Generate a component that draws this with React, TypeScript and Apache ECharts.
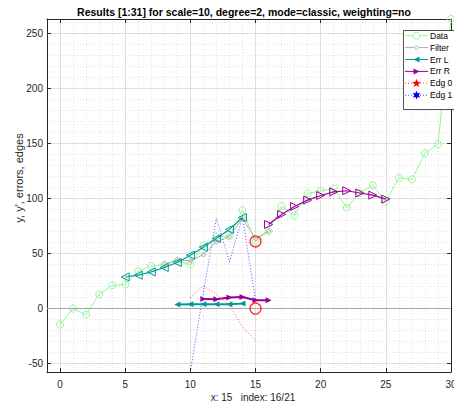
import React, { useEffect, useRef } from "react";
import * as echarts from "echarts";

const FONT = "'Liberation Sans', Arial, Helvetica, sans-serif";
const TITLE = "Results [1:31] for scale=10, degree=2, mode=classic, weighting=no";
const X_LABEL = "x: 15\u00a0\u00a0 index: 16/21";
const Y_LABEL = "y, y', errors, edges";

const X_MIN = -1;
const X_MAX = 30;
const Y_MIN = -57.6;
const Y_MAX = 263;

const dataX = [0, 1, 2, 3, 4, 5, 6, 7, 8, 9, 10, 11, 12, 13, 14, 15, 16, 17, 18, 19, 20, 21, 22, 23, 24, 25, 26, 27, 28, 29, 30];
const dataY = [-14.5, 0, -5.5, 13, 21, 22, 34, 38.7, 40, 43, 40, 57, 65, 65.7, 89.4, 61, 70.5, 93, 84.5, 104.5, 107, 109, 91.5, 105, 112, 97, 118.7, 117.3, 141, 149.4, 263];

const filterX = [8, 9, 10, 11, 12, 13, 14, 15, 16];
const filterY = [40, 44.5, 43.3, 49, 60.5, 65.5, 81.8, 63.6, 70.5];

const errLX = [5, 6, 7, 8, 9, 10, 11, 12, 13, 14];
const errLY = [28.7, 30.3, 33.3, 37.3, 41.8, 48.5, 55.7, 63.6, 71.9, 82.7];

const errRX = [16, 17, 18, 19, 20, 21, 22, 23, 24, 25];
const errRY = [76.4, 85.5, 92.7, 98.5, 102.7, 106, 107, 105, 103, 99.4];

const errLLowX = [9, 10, 11, 12, 13, 14];
const errLLowY = [3.6, 3.9, 3.9, 3.9, 3.9, 4.5];

const errRLowX = [11, 12, 13, 14, 15, 16];
const errRLowY = [8.7, 8.5, 10, 10.5, 7.5, 7.5];

const edg0X = [10, 11, 12, 13, 14, 15];
const edg0Y = [10, 20.5, 13, 3, -16.7, -28.8];

const edg1X = [10, 11, 12, 13, 14, 15];
const edg1Y = [-57.6, 15, 81.8, 42.4, 83.3, 7.5];

const markX = [15, 15];
const markY = [61, 0];

const legendNames = ["Data", "Filter", "Err L", "Err R", "Edg 0", "Edg 1"];

const GREEN = "#99f599";
const GREY = "#b0b0b0";
const TEAL = "#009999";
const PURPLE = "#990099";
const RED = "#ff4d4d";
const BLUE = "#4d4dff";
const AXIS = "#262626";

const LEFT_TRI = "path://M0,5L10,0L10,10Z";
const RIGHT_TRI = "path://M10,5L0,0L0,10Z";

const pairs = (xs: number[], ys: number[]) => xs.map((x, i) => [x, ys[i]]);

function starPoints(cx: number, cy: number, n: number, R: number, r: number) {
  const pts: number[][] = [];
  for (let i = 0; i < n * 2; i++) {
    const rad = i % 2 === 0 ? R : r;
    const a = -Math.PI / 2 + (i * Math.PI) / n;
    pts.push([cx + rad * Math.cos(a), cy + rad * Math.sin(a)]);
  }
  return pts;
}

function buildLegend() {
  const x0 = 405;
  const x1 = 428;
  const cx = (x0 + x1) / 2;
  const tx = 430;
  const y0 = 35.7;
  const dy = 11.9;
  const Z = 200;
  const styles = [
    { stroke: GREEN, dash: null as any },
    { stroke: GREY, dash: null as any },
    { stroke: TEAL, dash: null as any },
    { stroke: PURPLE, dash: null as any },
    { stroke: RED, dash: [1, 2] },
    { stroke: BLUE, dash: [1, 2] },
  ];
  const els: any[] = [
    {
      type: "rect",
      z: Z,
      shape: { x: 403.5, y: 30.5, width: 60, height: 79 },
      style: { fill: "#ffffff", stroke: AXIS, lineWidth: 0.8 },
    },
  ];
  legendNames.forEach((name, i) => {
    const y = y0 + i * dy;
    const s = styles[i];
    els.push({
      type: "line",
      z: Z + 1,
      shape: { x1: x0, y1: y, x2: x1, y2: y },
      style: { stroke: s.stroke, lineWidth: 1, lineDash: s.dash },
    });
    let marker: any;
    if (i === 0) {
      marker = { type: "circle", shape: { cx, cy: y, r: 3.5 }, style: { fill: "#ffffff", stroke: GREEN, lineWidth: 1 } };
    } else if (i === 1) {
      marker = { type: "circle", shape: { cx, cy: y, r: 1.8 }, style: { fill: "#ffffff", stroke: GREY, lineWidth: 1 } };
    } else if (i === 2) {
      marker = { type: "polygon", shape: { points: [[cx - 3, y], [cx + 3, y - 3], [cx + 3, y + 3]] }, style: { fill: TEAL } };
    } else if (i === 3) {
      marker = { type: "polygon", shape: { points: [[cx + 3, y], [cx - 3, y - 3], [cx - 3, y + 3]] }, style: { fill: PURPLE } };
    } else if (i === 4) {
      marker = { type: "polygon", shape: { points: starPoints(cx, y, 5, 4.6, 1.9) }, style: { fill: "#ff0000" } };
    } else {
      marker = { type: "polygon", shape: { points: starPoints(cx, y, 6, 4.4, 2.2) }, style: { fill: "#0000ff" } };
    }
    marker.z = Z + 2;
    els.push(marker);
    els.push({
      type: "text",
      z: Z + 2,
      x: tx,
      y,
      style: { text: name, fill: "#000000", font: `8.5px ${FONT}`, align: "left", verticalAlign: "middle" },
    });
  });
  return els;
}

function xAxisCfg(position: "bottom" | "top") {
  const main = position === "bottom";
  return {
    type: "value",
    min: X_MIN,
    max: X_MAX,
    minInterval: 5,
    maxInterval: 5,
    position,
    axisLine: { show: true, onZero: false, lineStyle: { color: AXIS, width: 1 } },
    axisTick: { show: true, inside: true, length: 4, lineStyle: { color: AXIS, width: 1 } },
    axisLabel: {
      show: main,
      color: AXIS,
      fontSize: 10,
      fontFamily: FONT,
      margin: 7,
      showMinLabel: false,
      showMaxLabel: true,
    },
    splitLine: { show: main, lineStyle: { color: "#dedede", width: 1 } },
    minorTick: { show: false, splitNumber: 5 },
    minorSplitLine: { show: main, lineStyle: { color: "#e2e2e2", width: 1, type: [1, 2] } },
  };
}

function yAxisCfg(position: "left" | "right") {
  const main = position === "left";
  return {
    type: "value",
    min: Y_MIN,
    max: Y_MAX,
    minInterval: 50,
    maxInterval: 50,
    position,
    axisLine: { show: true, onZero: false, lineStyle: { color: AXIS, width: 1 } },
    axisTick: { show: true, inside: true, length: 4, lineStyle: { color: AXIS, width: 1 } },
    axisLabel: {
      show: main,
      color: AXIS,
      fontSize: 10,
      fontFamily: FONT,
      margin: 4,
      showMinLabel: false,
      showMaxLabel: false,
    },
    splitLine: { show: main, lineStyle: { color: "#dedede", width: 1 } },
    minorTick: { show: false, splitNumber: 5 },
    minorSplitLine: { show: main, lineStyle: { color: "#e2e2e2", width: 1, type: [1, 2] } },
  };
}

export default function App() {
  const ref = useRef<HTMLDivElement>(null);

  useEffect(() => {
    if (!ref.current) return;
    const chart = echarts.init(ref.current, null, { renderer: "svg" });
    const option: any = {
      animation: false,
      backgroundColor: "#ffffff",
      grid: { left: 47, right: 3, top: 19, bottom: 34, containLabel: false, outerBoundsMode: "none" },
      xAxis: [xAxisCfg("bottom"), xAxisCfg("top")],
      yAxis: [yAxisCfg("left"), yAxisCfg("right")],
      series: [
        {
          name: "Data",
          type: "line",
          data: pairs(dataX, dataY),
          symbol: "circle",
          symbolSize: 7,
          showSymbol: true,
          clip: false,
          lineStyle: { color: GREEN, width: 1 },
          itemStyle: { color: "rgba(0,0,0,0)", borderColor: GREEN, borderWidth: 1 },
          emphasis: { disabled: true },
          markLine: {
            silent: true,
            symbol: "none",
            label: { show: false },
            lineStyle: { color: "#a6a6a6", width: 1, type: "solid" },
            data: [{ yAxis: 0 }],
          },
          z: 2,
        },
        {
          name: "Filter",
          type: "line",
          data: pairs(filterX, filterY),
          symbol: "circle",
          symbolSize: 4,
          lineStyle: { color: GREY, width: 1 },
          itemStyle: { color: "rgba(0,0,0,0)", borderColor: GREY, borderWidth: 1 },
          emphasis: { disabled: true },
          z: 3,
        },
        {
          name: "Err L",
          type: "line",
          data: pairs(errLX, errLY),
          symbol: LEFT_TRI,
          symbolSize: [8, 8],
          lineStyle: { color: TEAL, width: 1.2 },
          itemStyle: { color: "rgba(0,0,0,0)", borderColor: TEAL, borderWidth: 1 },
          emphasis: { disabled: true },
          z: 4,
        },
        {
          name: "Err R",
          type: "line",
          data: pairs(errRX, errRY),
          symbol: RIGHT_TRI,
          symbolSize: [8, 8],
          lineStyle: { color: PURPLE, width: 1.2 },
          itemStyle: { color: "rgba(0,0,0,0)", borderColor: PURPLE, borderWidth: 1 },
          emphasis: { disabled: true },
          z: 4,
        },
        {
          name: "Err L low",
          type: "line",
          data: pairs(errLLowX, errLLowY),
          symbol: LEFT_TRI,
          symbolSize: [6, 6],
          lineStyle: { color: TEAL, width: 2 },
          itemStyle: { color: TEAL },
          emphasis: { disabled: true },
          z: 4,
        },
        {
          name: "Err R low",
          type: "line",
          data: pairs(errRLowX, errRLowY),
          symbol: RIGHT_TRI,
          symbolSize: [6, 6],
          lineStyle: { color: PURPLE, width: 2 },
          itemStyle: { color: PURPLE },
          emphasis: { disabled: true },
          z: 4,
        },
        {
          name: "Edg 0",
          type: "line",
          data: pairs(edg0X, edg0Y),
          showSymbol: false,
          symbol: "none",
          lineStyle: { color: RED, width: 1, type: [1, 2] },
          emphasis: { disabled: true },
          z: 5,
        },
        {
          name: "Edg 1",
          type: "line",
          data: pairs(edg1X, edg1Y),
          showSymbol: false,
          symbol: "none",
          lineStyle: { color: BLUE, width: 1, type: [1, 2] },
          emphasis: { disabled: true },
          z: 5,
        },
        {
          name: "Edges",
          type: "scatter",
          data: pairs(markX, markY),
          symbol: "circle",
          symbolSize: 11,
          itemStyle: { color: "rgba(0,0,0,0)", borderColor: "#ff0000", borderWidth: 1.3 },
          emphasis: { disabled: true },
          z: 6,
        },
      ],
      graphic: [
        {
          type: "text",
          x: 244,
          y: 11.5,
          z: 200,
          style: { text: TITLE, fill: "#000000", font: `bold 10.5px ${FONT}`, align: "center", verticalAlign: "middle" },
        },
        {
          type: "text",
          x: 253,
          y: 397,
          z: 200,
          style: { text: X_LABEL, fill: AXIS, font: `10px ${FONT}`, align: "center", verticalAlign: "middle" },
        },
        {
          type: "text",
          x: 19,
          y: 178,
          rotation: Math.PI / 2,
          z: 200,
          style: { text: Y_LABEL, fill: AXIS, font: `11px ${FONT}`, align: "center", verticalAlign: "middle" },
        },
        ...buildLegend(),
      ],
    };
    chart.setOption(option);
    return () => chart.dispose();
  }, []);

  return (
    <div
      ref={ref}
      style={{ position: "fixed", left: 0, top: 0, width: 454, height: 406, background: "#ffffff" }}
    />
  );
}
